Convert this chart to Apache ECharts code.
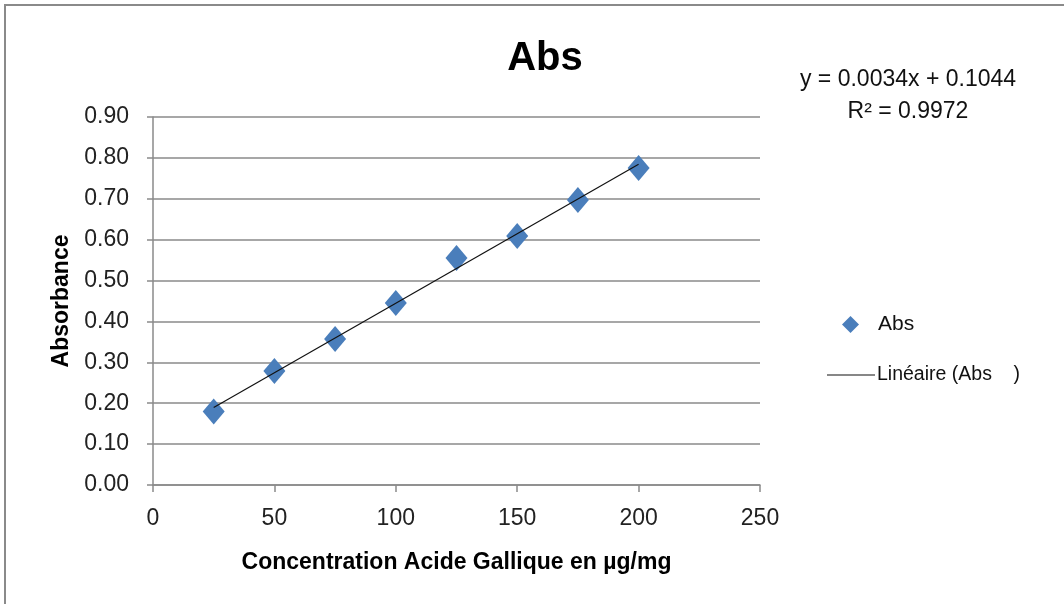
<!DOCTYPE html>
<html>
<head>
<meta charset="utf-8">
<script src="https://cdn.jsdelivr.net/npm/echarts@6/dist/echarts.min.js"></script>
<style>
html,body{margin:0;padding:0;background:#fff;}
#c{width:1064px;height:604px;}
</style>
</head>
<body>
<div id="c"></div>
<script>
const concentrations = [25, 50, 75, 100, 125, 150, 175, 200];
const absorbances = [0.180, 0.279, 0.357, 0.445, 0.555, 0.609, 0.697, 0.775];
const trendSlope = 0.0034;
const trendIntercept = 0.1044;
const trendRange = [25, 200];
const equationLines = ['y = 0.0034x + 0.1044', 'R² = 0.9972'];
const seriesName = 'Abs';
const trendName = 'Linéaire (Abs    )';

const FONT = "'Liberation Sans', Arial, sans-serif";
const chart = echarts.init(document.getElementById('c'), null, {renderer: 'canvas'});

const scatterData = concentrations.map((x, i) => [x, absorbances[i]]);
const trendData = trendRange.map(x => [x, trendSlope * x + trendIntercept]);

chart.setOption({
  backgroundColor: '#fff',
  animation: false,
  title: {
    text: 'Abs', left: 540, top: 34, textAlign: 'center',
    textStyle: {fontFamily: FONT, fontSize: 40, fontWeight: 'bold', color: '#000'}
  },
  grid: {left: 153, right: 304, top: 117, bottom: 119, containLabel: false},
  xAxis: {
    type: 'value', min: 0, max: 250, interval: 50,
    name: 'Concentration Acide Gallique en µg/mg',
    nameLocation: 'middle', nameGap: 66,
    nameTextStyle: {fontFamily: FONT, fontSize: 23, fontWeight: 'bold', color: '#000'},
    axisLine: {show: true, lineStyle: {color: '#8a8a8a', width: 1.5}},
    axisTick: {show: true, length: 7, inside: false, lineStyle: {color: '#8a8a8a', width: 1.5}},
    axisLabel: {fontFamily: FONT, fontSize: 23, color: '#222', margin: 22},
    splitLine: {show: false}
  },
  yAxis: {
    type: 'value', min: 0, max: 0.9, interval: 0.1,
    name: 'Absorbance', nameLocation: 'middle', nameGap: 80, nameRotate: 90,
    nameTextStyle: {fontFamily: FONT, fontSize: 23, fontWeight: 'bold', color: '#000'},
    axisLine: {show: true, lineStyle: {color: '#8a8a8a', width: 1.5}},
    axisTick: {show: true, length: 6, inside: false, lineStyle: {color: '#8a8a8a', width: 1.5}},
    axisLabel: {fontFamily: FONT, fontSize: 23, color: '#222', margin: 24,
      formatter: v => v.toFixed(2)},
    splitLine: {show: true, lineStyle: {color: '#8a8a8a', width: 1.5}}
  },
  legend: [
    {
      data: [{name: seriesName, icon: 'diamond'}],
      left: 837, top: 309, itemWidth: 17, itemHeight: 17, itemGap: 10,
      textStyle: {fontFamily: FONT, fontSize: 21, color: '#111', padding: [0, 0, 0, 14]},
      selectedMode: false
    },
    {
      data: [{name: trendName, icon: 'path://M0,0 L48,0 L48,1 L0,1 Z'}],
      left: 822, top: 360, itemWidth: 48, itemHeight: 1.3, itemGap: 0,
      textStyle: {fontFamily: FONT, fontSize: 19.5, color: '#111', padding: [0, 0, 0, -3]},
      selectedMode: false
    }
  ],
  series: [
    {
      name: trendName, type: 'line', data: trendData, symbol: 'none',
      lineStyle: {color: '#111', width: 1.2}, itemStyle: {color: '#111'}, z: 3, silent: true
    },
    {
      name: seriesName, type: 'scatter', data: scatterData, symbol: 'diamond', symbolSize: [22, 26],
      itemStyle: {color: '#4A7EBB', opacity: 1}, z: 2
    }
  ],
  graphic: [
    {type: 'rect', shape: {x: 5, y: 5, width: 1200, height: 800}, style: {fill: 'none', stroke: '#8a8a8a', lineWidth: 2}, silent: true},
    {type: 'text', x: 908, y: 80, style: {text: equationLines[0], fontFamily: FONT, fontSize: 23, fill: '#111', align: 'center', verticalAlign: 'middle'}},
    {type: 'text', x: 908, y: 112, style: {text: equationLines[1], fontFamily: FONT, fontSize: 23, fill: '#111', align: 'center', verticalAlign: 'middle'}}
  ]
});
</script>
</body>
</html>
